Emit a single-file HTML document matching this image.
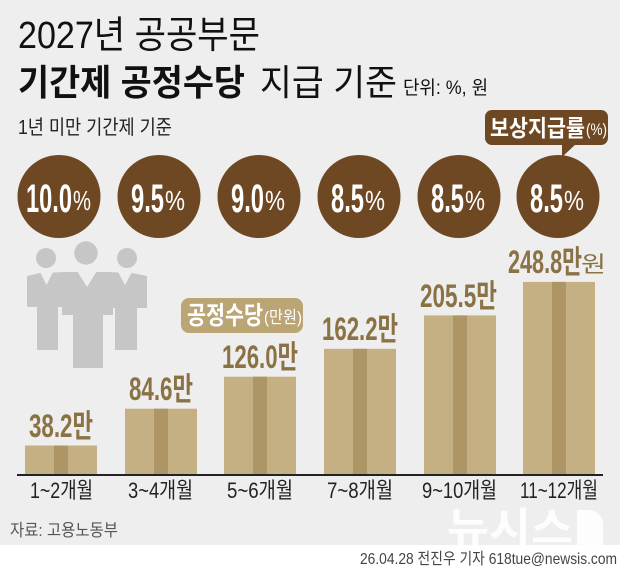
<!DOCTYPE html>
<html><head><meta charset="utf-8"><style>
html,body{margin:0;padding:0;background:#fff;}
svg{display:block}
text{font-family:"Liberation Sans","Noto Sans CJK KR",sans-serif;}
</style></head><body>
<svg width="620" height="570" viewBox="0 0 620 570" xmlns="http://www.w3.org/2000/svg">
<rect width="620" height="545" fill="#eeeeee"/>
<rect y="545" width="620" height="25" fill="#ffffff"/>

<!-- Titles -->
<text x="18" y="48" font-size="38" fill="#111" textLength="242" lengthAdjust="spacingAndGlyphs">2027년 공공부문</text>
<text x="18" y="95" font-size="36" font-weight="bold" fill="#111" textLength="227" lengthAdjust="spacingAndGlyphs">기간제 공정수당</text>
<text x="260" y="95" font-size="36" fill="#111" textLength="137" lengthAdjust="spacingAndGlyphs">지급 기준</text>
<text x="403" y="94" font-size="19" fill="#111" textLength="85" lengthAdjust="spacingAndGlyphs">단위: %, 원</text>
<text x="18" y="134" font-size="20" fill="#222" textLength="154" lengthAdjust="spacingAndGlyphs">1년 미만 기간제 기준</text>

<!-- Bubble -->
<rect x="485" y="110" width="123" height="35" rx="7" fill="#6e4723"/>
<polygon points="562,143 577,143 562,157" fill="#6e4723"/>
<text x="490" y="136" font-size="23" font-weight="bold" fill="#fff" textLength="95" lengthAdjust="spacingAndGlyphs">보상지급률</text>
<text x="586" y="135" font-size="17" fill="#fff" textLength="21" lengthAdjust="spacingAndGlyphs">(%)</text>

<!-- Circles -->
<g fill="#6e4723">
<circle cx="59" cy="196.5" r="41.5"/>
<circle cx="159" cy="196.5" r="41.5"/>
<circle cx="259" cy="196.5" r="41.5"/>
<circle cx="359" cy="196.5" r="41.5"/>
<circle cx="459" cy="196.5" r="41.5"/>
<circle cx="558" cy="196.5" r="41.5"/>
</g>
<g fill="#fff">
<text x="26" y="212" font-size="40" font-weight="bold" textLength="46" lengthAdjust="spacingAndGlyphs">10.0</text>
<text x="73" y="210" font-size="28" textLength="18" lengthAdjust="spacingAndGlyphs">%</text>
<text x="131" y="212" font-size="40" font-weight="bold" textLength="33" lengthAdjust="spacingAndGlyphs">9.5</text>
<text x="165" y="210" font-size="28" textLength="20" lengthAdjust="spacingAndGlyphs">%</text>
<text x="231" y="212" font-size="40" font-weight="bold" textLength="33" lengthAdjust="spacingAndGlyphs">9.0</text>
<text x="265" y="210" font-size="28" textLength="20" lengthAdjust="spacingAndGlyphs">%</text>
<text x="331" y="212" font-size="40" font-weight="bold" textLength="33" lengthAdjust="spacingAndGlyphs">8.5</text>
<text x="365" y="210" font-size="28" textLength="20" lengthAdjust="spacingAndGlyphs">%</text>
<text x="431" y="212" font-size="40" font-weight="bold" textLength="33" lengthAdjust="spacingAndGlyphs">8.5</text>
<text x="465" y="210" font-size="28" textLength="20" lengthAdjust="spacingAndGlyphs">%</text>
<text x="530" y="212" font-size="40" font-weight="bold" textLength="33" lengthAdjust="spacingAndGlyphs">8.5</text>
<text x="564" y="210" font-size="28" textLength="20" lengthAdjust="spacingAndGlyphs">%</text>
</g>

<!-- People icon -->
<g fill="#c7c6c7">
<circle cx="46" cy="258" r="10"/>
<circle cx="86" cy="253" r="11.7"/>
<circle cx="127" cy="258" r="10"/>
<polygon points="27,276 40,273 66,272 108,272 132,273 147,276 147,308 113,308 113,315 62,315 62,307 27,307"/>
<rect x="37" y="300" width="21" height="50"/>
<rect x="73" y="300" width="30" height="68"/>
<rect x="115" y="300" width="22" height="50"/>
</g>
<g fill="#eeeeee">
<polygon points="40,272 53,272 46.5,285"/>
<polygon points="77,271 97,271 87,287"/>
<polygon points="118,272 132,272 125,285"/>
</g>

<!-- Legend -->
<rect x="181" y="298" width="122" height="35" rx="8" fill="#bca575"/>
<text x="187" y="324" font-size="25" font-weight="bold" fill="#fff" textLength="76" lengthAdjust="spacingAndGlyphs">공정수당</text>
<text x="264" y="323" font-size="17" fill="#fff" textLength="38" lengthAdjust="spacingAndGlyphs">(만원)</text>

<!-- Bars -->
<g fill="#c5b084">
<rect x="25" y="445.5" width="72" height="28.5"/>
<rect x="125" y="408.7" width="72" height="65.3"/>
<rect x="224" y="376.7" width="72" height="97.3"/>
<rect x="324" y="348.8" width="72" height="125.2"/>
<rect x="424" y="315.4" width="72" height="158.6"/>
<rect x="523" y="281.9" width="72" height="192.1"/>
</g>
<g fill="#ad9566">
<rect x="54" y="445.5" width="14" height="28.5"/>
<rect x="154" y="408.7" width="14" height="65.3"/>
<rect x="253" y="376.7" width="14" height="97.3"/>
<rect x="353" y="348.8" width="14" height="125.2"/>
<rect x="453" y="315.4" width="14" height="158.6"/>
<rect x="552" y="281.9" width="14" height="192.1"/>
</g>
<rect x="17" y="474" width="586" height="2" fill="#222"/>

<!-- Bar labels -->
<g fill="#8a7245" font-size="32" font-weight="bold">
<text x="29" y="437" textLength="64" lengthAdjust="spacingAndGlyphs">38.2만</text>
<text x="129" y="400" textLength="64" lengthAdjust="spacingAndGlyphs">84.6만</text>
<text x="222" y="368" textLength="76" lengthAdjust="spacingAndGlyphs">126.0만</text>
<text x="322" y="340" textLength="76" lengthAdjust="spacingAndGlyphs">162.2만</text>
<text x="420" y="307" textLength="77" lengthAdjust="spacingAndGlyphs">205.5만</text>
<text x="508" y="273" textLength="74" lengthAdjust="spacingAndGlyphs">248.8만</text>
<text x="581" y="272" font-size="22" font-weight="normal" textLength="25" lengthAdjust="spacingAndGlyphs">원</text>
</g>

<!-- Category labels -->
<g fill="#222" font-size="22">
<text x="30" y="498" textLength="63" lengthAdjust="spacingAndGlyphs">1~2개월</text>
<text x="128" y="498" textLength="65" lengthAdjust="spacingAndGlyphs">3~4개월</text>
<text x="227" y="498" textLength="66" lengthAdjust="spacingAndGlyphs">5~6개월</text>
<text x="327" y="498" textLength="66" lengthAdjust="spacingAndGlyphs">7~8개월</text>
<text x="422" y="498" textLength="75" lengthAdjust="spacingAndGlyphs">9~10개월</text>
<text x="520" y="498" textLength="78" lengthAdjust="spacingAndGlyphs">11~12개월</text>
</g>

<!-- Watermark -->
<g fill="#ffffff" opacity="0.9">
<text x="447" y="543" font-size="42" font-weight="bold" textLength="126" lengthAdjust="spacingAndGlyphs">뉴시스</text>
<path d="M577 510 h12 a14 14 0 0 1 14 14 v21 h-26 z"/>
</g>

<!-- Source / footer -->
<text x="10" y="536" font-size="17" fill="#555" textLength="108" lengthAdjust="spacingAndGlyphs">자료: 고용노동부</text>
<text x="360" y="564" font-size="16" fill="#444" textLength="257" lengthAdjust="spacingAndGlyphs">26.04.28 전진우 기자 618tue@newsis.com</text>
</svg>
</body></html>
